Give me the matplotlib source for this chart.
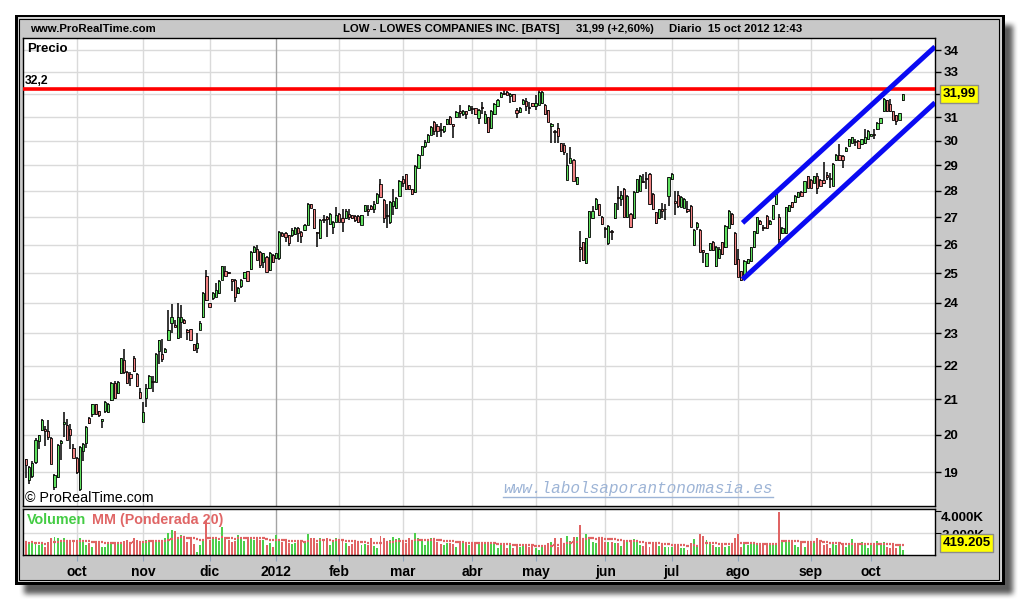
import numpy as np
import pandas as pd
import matplotlib
matplotlib.use('Agg')
import matplotlib.pyplot as plt
from matplotlib.patches import Rectangle
from matplotlib.lines import Line2D
from matplotlib.ticker import FixedLocator, NullLocator, FuncFormatter

# ---------------- data ----------------
START_DATE = '2011-09-09'
END_DATE = '2012-10-15'
HOLIDAYS = ['2011-11-24', '2011-12-26', '2012-01-02', '2012-01-16', '2012-02-20',
            '2012-04-06', '2012-05-28', '2012-07-04', '2012-09-03']
MONTH_LABELS = ['oct', 'nov', 'dic', '2012', 'feb', 'mar', 'abr', 'may', 'jun',
                'jul', 'ago', 'sep', 'oct']
PRICE_TICKS = list(range(19, 35))
HIDDEN_PRICE_LABELS = [32]

OPEN = [
    19.35, 18.80, 18.90, 19.26, 19.82, 20.14, 20.15, 20.10, 19.90, 18.60,
    18.87, 19.78, 20.30, 20.28, 20.15, 19.64, 19.37, 18.55, 19.55, 19.78,
    20.46, 20.58, 20.86, 20.67, 20.38, 20.68, 20.65, 20.98, 21.48, 21.18,
    21.77, 22.18, 21.82, 21.75, 22.25, 21.74, 21.23, 20.37, 21.03, 21.34,
    21.55, 21.52, 22.45, 22.35, 22.43, 22.80, 23.32, 23.27, 22.85, 23.38,
    23.43, 23.10, 23.13, 22.66, 22.55, 23.11, 23.52, 24.91, 23.98, 24.14,
    24.20, 24.31, 24.77, 25.08, 25.05, 24.79, 24.77, 24.31, 24.54, 24.83,
    25.06, 25.14, 25.74, 25.85, 25.72, 25.40, 25.57, 25.09, 25.63, 25.52,
    25.52, 26.43, 26.43, 26.35, 26.35, 26.38, 26.59, 26.47, 26.53, 26.72,
    27.48, 27.29, 26.46, 26.22, 26.93, 26.99, 26.75, 26.65, 26.84, 27.12,
    26.96, 26.96, 27.13, 27.09, 27.03, 27.03, 26.72, 27.22, 27.30, 27.42,
    27.31, 27.52, 28.26, 27.65, 27.10, 26.84, 27.42, 27.35, 27.81, 28.45,
    28.64, 28.22, 28.06, 27.94, 28.90, 29.43, 29.77, 29.97, 30.26, 30.80,
    30.61, 30.50, 30.40, 30.69, 31.00, 30.70, 31.00, 31.26, 31.11, 31.25,
    31.32, 31.40, 31.40, 30.98, 31.45, 30.75, 31.00, 30.54, 31.11, 31.49,
    31.86, 32.05, 32.10, 31.92, 32.00, 31.32, 31.21, 31.58, 31.68, 31.45,
    31.60, 31.46, 31.54, 31.60, 31.54, 31.30, 30.61, 30.40, 30.54, 29.90,
    29.84, 28.42, 29.10, 29.23, 28.26, 25.90, 26.10, 25.35, 26.28, 26.96,
    27.29, 27.48, 27.02, 26.60, 26.04, 26.50, 26.96, 27.78, 27.68, 28.06,
    27.00, 27.13, 26.96, 27.94, 28.00, 28.40, 28.50, 28.66, 27.87, 27.18,
    26.96, 27.30, 27.30, 27.81, 28.45, 27.60, 27.83, 27.39, 27.35, 27.30,
    27.42, 25.98, 26.65, 26.53, 25.80, 25.23, 25.80, 26.10, 25.23, 25.54,
    26.09, 25.90, 26.61, 27.12, 26.42, 25.48, 25.06, 24.94, 25.36, 25.42,
    25.90, 26.42, 26.87, 26.65, 27.06, 26.74, 26.94, 27.50, 27.00, 26.42,
    26.42, 27.25, 27.56, 27.56, 27.75, 27.96, 27.94, 28.56, 28.44, 28.31,
    28.56, 28.44, 28.44, 28.60, 28.50, 28.19, 29.21, 29.43, 29.36, 29.57,
    29.79, 29.93, 30.00, 30.00, 29.86, 29.93, 30.07, 30.20, 30.30, 30.48,
    30.75, 31.24, 31.72, 31.58, 31.24, 31.10, 30.89, 31.72]

HIGH = [
    19.35, 19.15, 19.30, 19.90, 20.00, 20.45, 20.25, 20.42, 19.95, 18.95,
    19.75, 19.87, 20.65, 20.45, 20.30, 19.75, 19.40, 19.70, 19.78, 20.25,
    20.50, 20.88, 20.88, 20.68, 20.45, 20.95, 20.90, 21.50, 21.55, 21.55,
    22.22, 22.50, 21.85, 21.80, 22.30, 21.78, 21.33, 20.93, 21.44, 21.72,
    21.70, 22.38, 22.80, 22.82, 22.55, 23.75, 23.97, 23.43, 24.00, 23.92,
    23.45, 23.15, 23.13, 22.66, 23.00, 23.40, 24.35, 25.10, 24.00, 24.35,
    24.65, 24.76, 25.25, 25.25, 25.05, 24.80, 24.80, 24.52, 24.80, 25.05,
    25.08, 25.76, 25.95, 26.00, 25.78, 25.69, 25.60, 25.73, 25.65, 25.71,
    26.50, 26.45, 26.47, 26.35, 26.59, 26.62, 26.65, 26.48, 26.75, 27.55,
    27.50, 27.30, 26.47, 26.92, 27.08, 27.03, 27.15, 26.85, 27.40, 27.14,
    27.29, 27.30, 27.29, 27.10, 27.09, 27.09, 27.10, 27.46, 27.44, 27.44,
    27.61, 27.90, 28.48, 27.67, 27.48, 27.60, 28.06, 27.75, 28.42, 28.58,
    28.66, 28.24, 28.08, 29.00, 29.45, 29.80, 30.03, 30.30, 30.61, 30.83,
    30.69, 30.75, 30.62, 30.92, 31.04, 30.70, 31.25, 31.50, 31.30, 31.26,
    31.54, 31.46, 31.41, 31.33, 31.63, 31.25, 31.00, 31.30, 31.60, 31.78,
    32.10, 32.17, 32.15, 32.03, 32.02, 31.39, 31.42, 31.76, 31.82, 31.63,
    31.62, 31.96, 32.25, 32.15, 31.56, 31.30, 30.76, 30.47, 30.76, 29.93,
    29.90, 29.50, 29.76, 29.25, 28.55, 26.49, 26.10, 26.22, 27.24, 27.42,
    27.74, 27.50, 27.05, 26.65, 26.70, 26.53, 27.55, 28.17, 28.00, 28.10,
    27.83, 27.15, 27.98, 28.47, 28.62, 28.66, 28.72, 28.68, 27.90, 27.20,
    27.30, 27.55, 27.48, 28.55, 28.68, 28.00, 28.00, 27.80, 27.74, 27.61,
    27.45, 26.55, 26.84, 26.55, 25.80, 25.70, 26.06, 26.12, 25.94, 25.90,
    26.10, 26.70, 27.28, 27.15, 26.45, 25.84, 25.06, 25.44, 25.50, 25.92,
    26.50, 27.02, 26.90, 26.70, 27.08, 26.90, 27.46, 27.96, 27.12, 26.64,
    27.40, 27.46, 27.58, 27.83, 27.96, 27.98, 28.40, 28.58, 28.46, 28.58,
    28.69, 28.46, 29.14, 28.75, 28.69, 29.09, 29.45, 29.86, 29.43, 29.73,
    30.09, 30.16, 30.07, 30.02, 30.09, 30.48, 30.43, 30.29, 30.48, 30.77,
    30.98, 31.81, 31.74, 31.79, 31.26, 31.10, 31.19, 31.99]

LOW = [
    18.84, 18.70, 18.85, 19.20, 19.60, 20.10, 19.70, 19.87, 19.20, 18.53,
    18.85, 19.33, 19.95, 19.85, 19.60, 19.36, 18.95, 18.50, 19.30, 19.65,
    20.30, 20.50, 20.55, 20.50, 20.20, 20.62, 20.60, 20.95, 21.00, 21.15,
    21.75, 21.75, 21.45, 21.40, 21.80, 21.35, 21.00, 20.37, 20.79, 21.30,
    21.23, 21.50, 22.05, 22.10, 22.40, 22.80, 23.00, 23.20, 22.83, 22.85,
    23.30, 22.80, 22.78, 22.45, 22.40, 23.10, 23.50, 24.05, 23.85, 24.10,
    24.20, 24.30, 24.77, 24.90, 24.95, 24.38, 24.02, 24.30, 24.50, 24.80,
    24.70, 25.10, 25.70, 25.45, 25.17, 25.17, 25.00, 25.07, 25.35, 25.50,
    25.45, 26.30, 26.10, 25.95, 26.28, 26.35, 26.10, 26.04, 26.50, 26.70,
    27.33, 26.58, 25.92, 26.20, 26.78, 26.26, 26.72, 26.37, 26.82, 26.82,
    26.47, 26.95, 26.90, 26.95, 26.84, 26.78, 26.70, 27.20, 27.05, 27.27,
    27.16, 27.50, 27.75, 26.78, 26.59, 26.75, 27.10, 27.30, 27.80, 28.13,
    28.05, 28.05, 27.85, 27.90, 28.88, 29.40, 29.70, 29.95, 30.25, 30.26,
    30.16, 30.15, 30.33, 30.66, 30.66, 30.11, 30.98, 30.97, 31.04, 30.90,
    31.25, 31.11, 31.07, 30.70, 31.11, 30.73, 30.33, 30.50, 31.10, 31.45,
    31.85, 31.95, 31.95, 31.60, 31.65, 30.97, 31.18, 31.55, 31.25, 31.11,
    31.45, 31.32, 31.50, 31.55, 31.10, 30.77, 29.90, 29.90, 29.90, 29.55,
    29.43, 28.42, 29.08, 28.37, 28.24, 25.40, 25.42, 25.30, 26.26, 26.95,
    27.27, 27.05, 26.72, 26.22, 26.00, 26.16, 26.94, 27.26, 27.42, 26.98,
    26.98, 26.60, 26.95, 27.92, 27.98, 28.32, 28.06, 27.46, 27.27, 26.76,
    26.95, 26.96, 26.90, 27.42, 28.43, 27.10, 27.35, 27.37, 27.35, 27.16,
    26.63, 25.96, 26.53, 25.73, 25.34, 25.20, 25.78, 25.78, 25.21, 25.54,
    25.64, 25.88, 26.59, 26.72, 25.28, 24.85, 24.74, 24.92, 25.30, 25.40,
    25.88, 26.40, 26.70, 26.50, 26.55, 26.72, 26.92, 27.48, 26.02, 26.40,
    26.40, 27.20, 27.35, 27.54, 27.73, 27.79, 27.92, 28.10, 28.10, 28.29,
    27.88, 28.17, 28.25, 28.44, 28.12, 28.17, 29.19, 29.19, 28.88, 29.55,
    29.77, 29.91, 29.79, 29.69, 29.84, 29.86, 30.05, 30.18, 30.07, 30.46,
    30.73, 31.22, 31.22, 31.22, 30.87, 30.66, 30.87, 31.70]

CLOSE = [
    19.19, 19.12, 19.25, 19.87, 20.00, 20.42, 20.10, 19.95, 19.20, 18.93,
    19.73, 19.84, 20.35, 19.87, 20.00, 19.36, 19.00, 19.68, 19.76, 20.23,
    20.33, 20.86, 20.58, 20.56, 20.44, 20.93, 20.88, 21.48, 21.03, 21.50,
    22.22, 21.80, 21.49, 21.64, 21.85, 21.39, 21.03, 20.63, 21.34, 21.70,
    21.50, 22.35, 22.80, 22.20, 22.50, 23.10, 23.52, 23.20, 23.52, 23.52,
    23.32, 23.05, 22.80, 22.48, 22.70, 23.34, 24.33, 24.08, 23.87, 24.33,
    24.42, 24.74, 25.23, 24.91, 25.00, 24.72, 24.17, 24.50, 24.77, 25.02,
    24.72, 25.74, 25.91, 25.45, 25.29, 25.69, 25.02, 25.71, 25.37, 25.69,
    26.47, 26.31, 26.28, 26.07, 26.51, 26.59, 26.43, 26.31, 26.72, 27.48,
    27.35, 26.60, 26.42, 26.90, 26.88, 26.93, 27.12, 26.84, 27.09, 26.84,
    26.84, 27.22, 27.00, 26.96, 26.90, 26.84, 27.09, 27.44, 27.25, 27.29,
    27.48, 27.87, 27.77, 26.96, 27.05, 27.57, 27.61, 27.74, 28.38, 28.32,
    28.06, 28.06, 27.87, 28.99, 29.43, 29.77, 29.97, 30.26, 30.57, 30.40,
    30.40, 30.45, 30.61, 30.90, 30.69, 30.62, 31.23, 31.18, 31.25, 31.11,
    31.46, 31.35, 31.11, 31.32, 31.40, 31.11, 30.37, 31.25, 31.58, 31.75,
    32.06, 32.00, 31.96, 32.00, 31.68, 31.18, 31.39, 31.75, 31.46, 31.40,
    31.46, 31.60, 32.10, 32.10, 31.11, 30.79, 30.69, 30.36, 30.19, 29.57,
    29.53, 29.03, 29.30, 28.38, 28.52, 25.85, 25.46, 26.22, 27.22, 27.22,
    27.68, 27.09, 26.75, 26.55, 26.69, 26.45, 27.52, 27.72, 27.83, 27.00,
    27.81, 26.62, 27.96, 28.45, 28.58, 28.35, 28.45, 27.48, 27.29, 26.78,
    27.29, 27.25, 27.30, 28.52, 28.64, 27.55, 27.42, 27.78, 27.68, 27.25,
    26.65, 26.53, 26.78, 25.75, 25.75, 25.69, 26.04, 25.80, 25.92, 25.84,
    25.66, 26.68, 27.25, 26.74, 25.30, 24.88, 24.76, 25.42, 25.48, 25.90,
    26.48, 27.00, 26.74, 26.60, 26.60, 26.87, 27.44, 27.94, 26.20, 26.61,
    27.37, 27.44, 27.37, 27.81, 27.94, 27.81, 28.38, 28.12, 28.12, 28.56,
    28.12, 28.19, 28.31, 28.55, 28.45, 29.07, 29.43, 29.21, 29.21, 29.71,
    30.07, 30.14, 29.95, 29.71, 30.07, 30.14, 30.41, 30.27, 30.25, 30.75,
    30.96, 31.79, 31.24, 31.24, 30.89, 30.82, 31.17, 31.99]

VOLUME_K = [
    1150, 970, 1300, 1060, 910, 970, 760, 1210, 1520, 1670,
    1520, 1360, 1520, 1360, 1360, 1270, 1210, 1520, 1210, 910,
    1060, 760, 1210, 1060, 760, 760, 1060, 1060, 1150, 1210,
    1210, 1270, 1360, 1210, 1520, 1360, 1270, 1210, 1360, 1210,
    1360, 1210, 1360, 1150, 1520, 1970, 2270, 2180, 1670, 1820,
    1520, 1210, 1520, 970, 300, 910, 1360, 3180, 1360, 1520,
    1520, 1270, 2580, 1520, 1360, 1210, 1270, 1820, 1520, 1270,
    1670, 1520, 1360, 1670, 1360, 1360, 910, 1060, 760, 1820,
    1360, 1210, 1360, 1060, 970, 1060, 1210, 1360, 1150, 1880,
    1520, 1520, 1060, 1520, 1420, 1520, 910, 1150, 1520, 1270,
    1360, 1060, 850, 970, 1210, 1210, 910, 970, 910, 1520,
    850, 670, 1730, 1520, 1210, 1360, 1640, 1450, 1580, 1150,
    1060, 1520, 1210, 2000, 1520, 1360, 910, 1450, 1580, 1520,
    1210, 970, 910, 1120, 1060, 970, 760, 1210, 1060, 970,
    910, 1150, 1150, 1150, 1060, 1150, 1150, 1150, 1150, 610,
    970, 910, 670, 910, 610, 970, 760, 910, 970, 760,
    970, 610, 450, 760, 910, 1060, 1210, 1520, 760, 1580,
    1060, 1730, 1270, 1640, 1670, 2730, 1520, 1910, 1670, 1210,
    1060, 1580, 1420, 1210, 1210, 1210, 1060, 1060, 820, 1360,
    1150, 1210, 1450, 1210, 910, 850, 970, 760, 1060, 1150,
    850, 910, 760, 760, 760, 910, 850, 670, 670, 450,
    1060, 1420, 760, 1910, 1760, 1360, 1060, 910, 760, 760,
    910, 760, 850, 910, 1520, 1910, 760, 1060, 910, 970,
    970, 970, 910, 1000, 910, 1060, 970, 970, 3940, 1210,
    1270, 1360, 1150, 910, 760, 1060, 760, 1210, 1060, 1210,
    1520, 1360, 910, 970, 670, 1060, 910, 1060, 970, 760,
    910, 1450, 910, 1060, 1210, 970, 670, 970, 970, 1270,
    910, 1150, 760, 610, 970, 610, 910, 420]

RESISTANCE = 32.2
CHANNEL_X = [226.4, 287.2]
CHANNEL_UPPER = [26.79, 34.155]
CHANNEL_LOWER = [24.78, 31.62]
WMA_PERIOD = 20

# ---------------- figure ----------------
W, H = 1020, 600
FONT = 'Liberation Sans'
plt.rcParams['font.family'] = [FONT, 'DejaVu Sans']
plt.rcParams['font.weight'] = 'bold'

fig = plt.figure(figsize=(W / 100, H / 100), dpi=100)
fig.patch.set_facecolor('white')


def frect(x0, y0, x1, y1, **kw):
    r = Rectangle((x0 / W, 1 - y1 / H), (x1 - x0) / W, (y1 - y0) / H,
                  transform=fig.transFigure, **kw)
    fig.add_artist(r)
    return r


def ftext(x, y, s, **kw):
    kw.setdefault('family', [FONT, 'DejaVu Sans'])
    return fig.text(x / W, 1 - y / H, s, **kw)


# drop shadow (blurred)
mask = np.zeros((H, W))
mask[25:594, 24:1013] = 1.0


def box_blur(a, r):
    k = 2 * r + 1
    p = np.pad(a, r, mode='edge')
    cs = np.cumsum(p, axis=0)
    cs = np.vstack([np.zeros((1, cs.shape[1])), cs])
    a1 = (cs[k:] - cs[:-k]) / k
    cs = np.cumsum(a1, axis=1)
    cs = np.hstack([np.zeros((cs.shape[0], 1)), cs])
    return (cs[:, k:] - cs[:, :-k]) / k


mask = box_blur(box_blur(mask, 3), 2)
shadow = np.zeros((H, W, 4))
shadow[..., 0:3] = 0.30
shadow[..., 3] = mask * 0.92
fig.figimage(shadow, 0, 0, origin='upper', zorder=-6)

# frame
frect(15, 14.5, 1005, 584.5, facecolor='black', edgecolor='none', zorder=-5)
frect(17.5, 17, 1002.5, 582, facecolor='#d2d2d2', edgecolor='none', zorder=-4)
frect(19, 19, 999.5, 579.5, facecolor='#c8c8c8', edgecolor='black', lw=0.8, zorder=-3)

# axes
ax = fig.add_axes([23 / W, 1 - 506 / H, (935 - 23) / W, (506 - 38) / H])
axv = fig.add_axes([23 / W, 1 - 555 / H, (935 - 23) / W, (555 - 509) / H])

n = len(CLOSE)
idx = np.arange(n)
o = np.array(OPEN)
h = np.array(HIGH)
l = np.array(LOW)
c = np.array(CLOSE)
v = np.array(VOLUME_K, dtype=float)
up = c >= o

# month positions from the trading calendar
dates = pd.bdate_range(START_DATE, END_DATE)
dates = dates[~dates.isin(pd.to_datetime(HOLIDAYS))]
ym = dates.year * 12 + dates.month
month_idx = [i for i in range(1, len(dates)) if ym[i] != ym[i - 1]]

XLIM = (-0.95, 287.2)

# ---- price panel ----
ax.set_facecolor('white')
ax.set_yscale('log')
ax.set_ylim(18.13, 34.57)
ax.set_xlim(*XLIM)
ax.yaxis.set_major_locator(FixedLocator(PRICE_TICKS))
ax.yaxis.set_minor_locator(NullLocator())
ax.yaxis.set_major_formatter(FuncFormatter(
    lambda val, pos: '' if int(round(val)) in HIDDEN_PRICE_LABELS else f'{int(round(val))}'))
ax.yaxis.tick_right()
ax.tick_params(axis='y', which='major', length=4, width=1, pad=2, labelsize=9.5,
               colors='black')
ax.set_xticks([])
ax.yaxis.grid(True, color='#dadada', lw=1)
ax.set_axisbelow(True)
for k, m in enumerate(month_idx):
    col = '#a4a4a4' if MONTH_LABELS[k] == '2012' else '#dadada'
    ax.axvline(m, color=col, lw=1, zorder=0.6)
    axv.axvline(m, color=col, lw=1, zorder=0.6)
for s in ax.spines.values():
    s.set_color('black')
    s.set_linewidth(1)

GREEN = '#5fe05f'
RED = '#f08282'
ax.vlines(idx, l, h, color='black', lw=1.1, zorder=3)
body_lo = np.minimum(o, c)
body_hi = np.maximum(o, c)
ax.bar(idx, body_hi - body_lo, bottom=body_lo, width=0.7,
       color=np.where(up, GREEN, RED), edgecolor='black', linewidth=0.6, zorder=4)

ax.axhline(RESISTANCE, color='#ff0000', lw=2.6, zorder=5)
ax.plot(CHANNEL_X, CHANNEL_UPPER, color='#0a0af2', lw=3.6, solid_capstyle='butt', zorder=6)
ax.plot(CHANNEL_X, CHANNEL_LOWER, color='#0a0af2', lw=3.6, solid_capstyle='butt', zorder=6)

# ---- volume panel ----
axv.set_facecolor('white')
axv.set_xlim(*XLIM)
axv.set_ylim(0, 4182)
axv.axhline(2000, color='#dadada', lw=1, zorder=0.5)
VGREEN = '#4ccf4c'
VRED = '#e06464'
axv.bar(idx, v, width=0.62, color=np.where(up, VGREEN, VRED), zorder=2)
weights = np.arange(1, WMA_PERIOD + 1, dtype=float)
wma = []
for t in range(n):
    s0 = max(0, t - WMA_PERIOD + 1)
    seg = v[s0:t + 1]
    w = weights[-len(seg):]
    wma.append(np.dot(seg, w) / w.sum())
wma = np.array(wma)
axv.hlines(wma, idx - 0.36, idx + 0.36, color=VRED, lw=1.6, zorder=3)
axv.set_yticks([2000, 4000])
axv.yaxis.tick_right()
axv.tick_params(axis='y', length=4, labelright=False, colors='black')
axv.set_xticks(month_idx)
axv.set_xticklabels(MONTH_LABELS)
axv.tick_params(axis='x', direction='out', length=4, color='#8ea4bd', pad=3,
                labelsize=10, labelcolor='black')
for s in axv.spines.values():
    s.set_color('black')
    s.set_linewidth(1)

# ---- texts ----
ftext(30, 29, 'www.ProRealTime.com', fontsize=8.2, weight='bold', va='center')
ftext(343, 29, 'LOW - LOWES COMPANIES INC. [BATS]', fontsize=8.2, weight='bold', va='center')
ftext(576, 29, '31,99 (+2,60%)', fontsize=8.2, weight='bold', va='center')
ftext(669, 29, 'Diario  15 oct 2012 12:43', fontsize=8.2, weight='bold', va='center')

ftext(27, 49, 'Precio', fontsize=9.5, weight='bold', va='center')
ftext(25, 81.5, '32,2', fontsize=8.7, weight='bold', va='center')
ftext(25, 498, '\u00a9 ProRealTime.com', fontsize=10.3, weight='normal', va='center')

ftext(503, 489, 'www.labolsaporantonomasia.es', family=['Liberation Mono', 'DejaVu Sans Mono'],
      style='italic', weight='normal', fontsize=11.6, color='#9db4d6', va='center')
fig.add_artist(Line2D([503 / W, 773 / W], [1 - 497 / H, 1 - 497 / H],
                      transform=fig.transFigure, color='#9db4d6', lw=1))

ftext(27, 520, 'Volumen', fontsize=10.3, weight='bold', color='#44cc44', va='center')
ftext(92, 520, 'MM (Ponderada 20)', fontsize=10.3, weight='bold', color='#e06666', va='center')

ftext(941, 518, '4.000K', fontsize=9.5, weight='bold', va='center')
ftext(941, 536, '2.000K', fontsize=9.5, weight='bold', va='center')

box = dict(boxstyle='square,pad=0.2', facecolor='#ffff00', edgecolor='#8c8c8c', lw=1)
ftext(942.5, 94, '31,99', fontsize=9.5, weight='bold', va='center', bbox=box, zorder=8)
ftext(942.5, 543, '419.205', fontsize=9.5, weight='bold', va='center', bbox=box, zorder=8)

fig.savefig('out.png', dpi=100)
